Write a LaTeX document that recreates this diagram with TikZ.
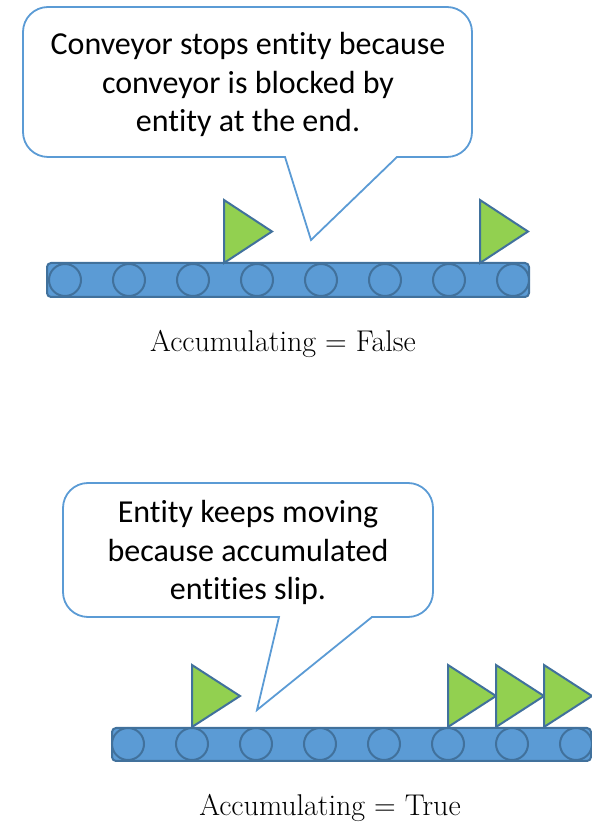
\documentclass[tikz,border=0pt]{standalone}
\usepackage{fontspec}
\newfontfamily\notefont{Carlito}[Ligatures=NoCommon]
\definecolor{beltblue}{HTML}{5B9BD5}
\definecolor{beltedge}{HTML}{41719C}
\definecolor{entgreen}{HTML}{92D050}
\begin{document}
\begin{tikzpicture}[x=1pt,y=1pt,
  belt/.style={fill=beltblue,draw=beltedge,line width=2pt,rounded corners=4pt},
  roller/.style={fill=beltblue,draw=beltedge,line width=2pt},
  entity/.style={fill=entgreen,draw=beltedge,line width=2pt,line join=miter},
  bubble/.style={fill=white,draw=beltblue,line width=1.8pt,line join=miter},
  notetext/.style={font=\notefont\fontsize{32}{38.5}\selectfont,align=center,inner sep=0pt,anchor=base},
  caption/.style={font=\fontsize{30}{34}\selectfont,inner sep=0pt,anchor=base}]
\useasboundingbox (0,0) rectangle (592,823);

% ---------- upper conveyor (non-accumulating) ----------
\draw[bubble] (285,666) -- (48,666) arc[start angle=270,end angle=180,radius=25pt]
  -- (23,791) arc[start angle=180,end angle=90,radius=25pt]
  -- (447,816) arc[start angle=90,end angle=0,radius=25pt]
  -- (472,691) arc[start angle=0,end angle=-90,radius=25pt]
  -- (397,666) -- (311,583) -- cycle;
% base anchor sits on the last line of the text
\node[notetext] (note1) at (248,691)
  {Conveyor stops entity because\\conveyor is blocked by\\entity at the end.};

\draw[belt] (47,526) rectangle (529,560);
\foreach \k in {0,...,7}
  \draw[roller] (65+64*\k,543) circle[radius=16pt];
\draw[entity] (224,560) -- (224,623) -- (272,591.5) -- cycle;
\draw[entity] (480,560) -- (480,623) -- (528,591.5) -- cycle;

\node[caption] (lab1) at (283,471) {Accumulating = False};

% ---------- lower conveyor (accumulating) ----------
\draw[bubble] (279,206) -- (88,206) arc[start angle=270,end angle=180,radius=25pt]
  -- (63,315) arc[start angle=180,end angle=90,radius=25pt]
  -- (408,340) arc[start angle=90,end angle=0,radius=25pt]
  -- (433,231) arc[start angle=0,end angle=-90,radius=25pt]
  -- (372,206) -- (257,113) -- cycle;
\node[notetext] (note2) at (248,223)
  {Entity keeps moving\\because accumulated\\entities slip.};

\draw[belt] (112,62) rectangle (591,95);
\foreach \k in {0,...,7}
  \draw[roller] (128+64*\k,79) circle[radius=16pt];
\foreach \x in {192,448,496,544}
  \draw[entity] (\x,96) -- (\x,158) -- (\x+48,127) -- cycle;

\node[caption] (lab2) at (330,8) {Accumulating = True};
\end{tikzpicture}
\end{document}
